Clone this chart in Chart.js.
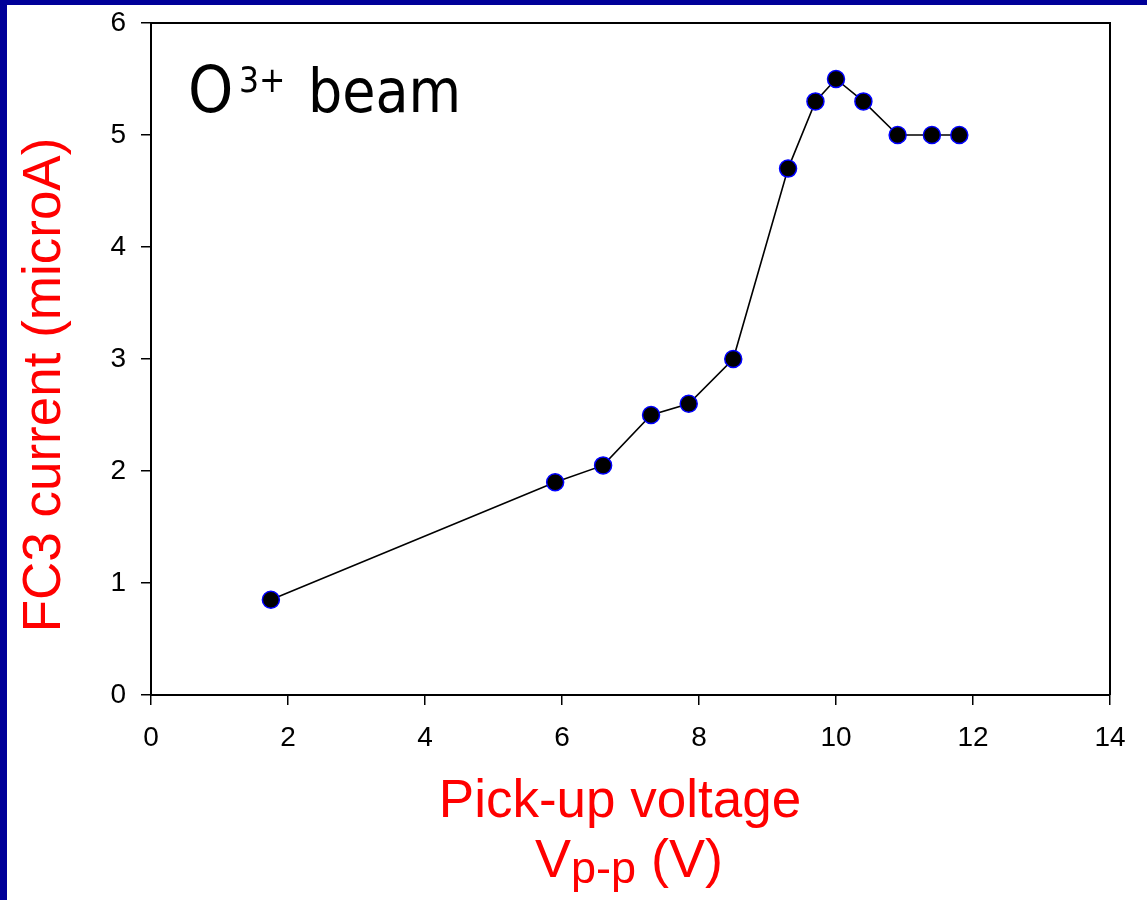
<!DOCTYPE html>
<html>
<head>
<meta charset="utf-8">
<script src="https://cdn.jsdelivr.net/npm/chart.js@4/dist/chart.umd.min.js"></script>
<style>
  html, body { margin: 0; padding: 0; background: #ffffff; }
  body { width: 1147px; height: 900px; position: relative; overflow: hidden; }
  #topbar { position: absolute; left: 0; top: 0; width: 1147px; height: 5px; background: #000099; }
  #leftbar { position: absolute; left: 0; top: 0; width: 7px; height: 900px; background: #000099; }
  #wrap { position: absolute; left: 7px; top: 5px; width: 1140px; height: 895px; }
</style>
</head>
<body>
<div id="topbar"></div>
<div id="leftbar"></div>
<div id="wrap"><canvas id="c" width="1140" height="895"></canvas></div>
<script>
// Data
const voltage = [1.75, 5.9, 6.6, 7.3, 7.85, 8.5, 9.3, 9.7, 10.0, 10.4, 10.9, 11.4, 11.8];
const current = [0.85, 1.9, 2.05, 2.5, 2.6, 3.0, 4.7, 5.3, 5.5, 5.3, 5.0, 5.0, 5.0];
const xTicks = [0, 2, 4, 6, 8, 10, 12, 14];
const yTicks = [0, 1, 2, 3, 4, 5, 6];
const yTitle = "FC3 current (microA)";
const xTitleLine1 = "Pick-up voltage";
const xTitleMain = "V";
const xTitleSub = "p-p";
const xTitleRest = " (V)";
const labelMain = "O";
const labelSup = "3+";
const labelRest = "beam";

const points = voltage.map((v, i) => ({ x: v, y: current[i] }));
const SANS = '"Liberation Sans", Arial, sans-serif';

const decor = {
  id: 'decor',
  afterDraw(chart) {
    const ctx = chart.ctx;
    const a = chart.chartArea;
    ctx.save();
    // frame top and right
    ctx.strokeStyle = '#000';
    ctx.lineWidth = 2;
    ctx.beginPath();
    ctx.moveTo(a.left, a.top);
    ctx.lineTo(a.right, a.top);
    ctx.lineTo(a.right, a.bottom);
    ctx.stroke();

    // y title (rotated)
    ctx.fillStyle = '#ff0000';
    ctx.font = '53px ' + SANS;
    ctx.textAlign = 'center';
    ctx.textBaseline = 'alphabetic';
    ctx.translate(53, 380);
    ctx.rotate(-Math.PI / 2);
    ctx.fillText(yTitle, 0, 0);
    ctx.setTransform(1, 0, 0, 1, 0, 0);

    // x title line 1
    ctx.textAlign = 'center';
    ctx.fillText(xTitleLine1, 613, 812);
    // x title line 2 with subscript
    ctx.textAlign = 'left';
    ctx.font = '54px ' + SANS;
    const wMain = ctx.measureText(xTitleMain).width;
    const wRest = ctx.measureText(xTitleRest).width;
    ctx.font = '45px ' + SANS;
    const wSub = ctx.measureText(xTitleSub).width;
    const total = wMain + wSub + wRest;
    let x = 622 - total / 2;
    ctx.font = '54px ' + SANS;
    ctx.fillText(xTitleMain, x, 872);
    x += wMain;
    ctx.font = '45px ' + SANS;
    ctx.fillText(xTitleSub, x, 878);
    x += wSub;
    ctx.font = '54px ' + SANS;
    ctx.fillText(xTitleRest, x, 872);

    // "O3+ beam" label
    ctx.fillStyle = '#000';
    const LF = '"DejaVu Sans Condensed", "DejaVu Sans", Verdana, sans-serif';
    ctx.font = '64px ' + LF;
    ctx.fillText(labelMain, 181, 107);
    ctx.font = '35px ' + LF;
    ctx.fillText(labelSup, 232, 87);
    ctx.font = '60px ' + LF;
    ctx.fillText(labelRest, 301, 107);
    ctx.restore();
  }
};

Chart.defaults.font.family = SANS;
Chart.defaults.color = '#000';

new Chart(document.getElementById('c'), {
  type: 'scatter',
  data: {
    datasets: [{
      data: points,
      showLine: true,
      borderColor: '#000',
      borderWidth: 1.6,
      pointRadius: 8.5,
      pointHoverRadius: 8.5,
      pointBackgroundColor: '#000',
      pointBorderColor: '#0000ff',
      pointBorderWidth: 1.5,
      tension: 0
    }]
  },
  options: {
    responsive: false,
    animation: false,
    devicePixelRatio: 1,
    layout: { padding: { left: 0, right: 37, top: 18, bottom: 0 } },
    plugins: { legend: { display: false }, tooltip: { enabled: false } },
    scales: {
      x: {
        type: 'linear',
        min: xTicks[0],
        max: xTicks[xTicks.length - 1],
        afterBuildTicks(s) { s.ticks = xTicks.map(v => ({ value: v })); },
        afterFit(s) { s.height = 205; s.paddingLeft = 0; s.paddingRight = 0; },
        grid: { display: true, drawOnChartArea: false, drawTicks: true, tickLength: 10, color: '#000', lineWidth: 1.5 },
        border: { display: true, color: '#000', width: 2 },
        ticks: { font: { size: 28 }, padding: 16, color: '#000', maxRotation: 0 }
      },
      y: {
        type: 'linear',
        min: yTicks[0],
        max: yTicks[yTicks.length - 1],
        afterBuildTicks(s) { s.ticks = yTicks.map(v => ({ value: v })); },
        afterFit(s) { s.width = 144; s.paddingTop = 0; s.paddingBottom = 0; },
        grid: { display: true, drawOnChartArea: false, drawTicks: true, tickLength: 10, color: '#000', lineWidth: 1.5 },
        border: { display: true, color: '#000', width: 2 },
        ticks: { font: { size: 28 }, padding: 15, color: '#000' }
      }
    }
  },
  plugins: [decor]
});
</script>
</body>
</html>
